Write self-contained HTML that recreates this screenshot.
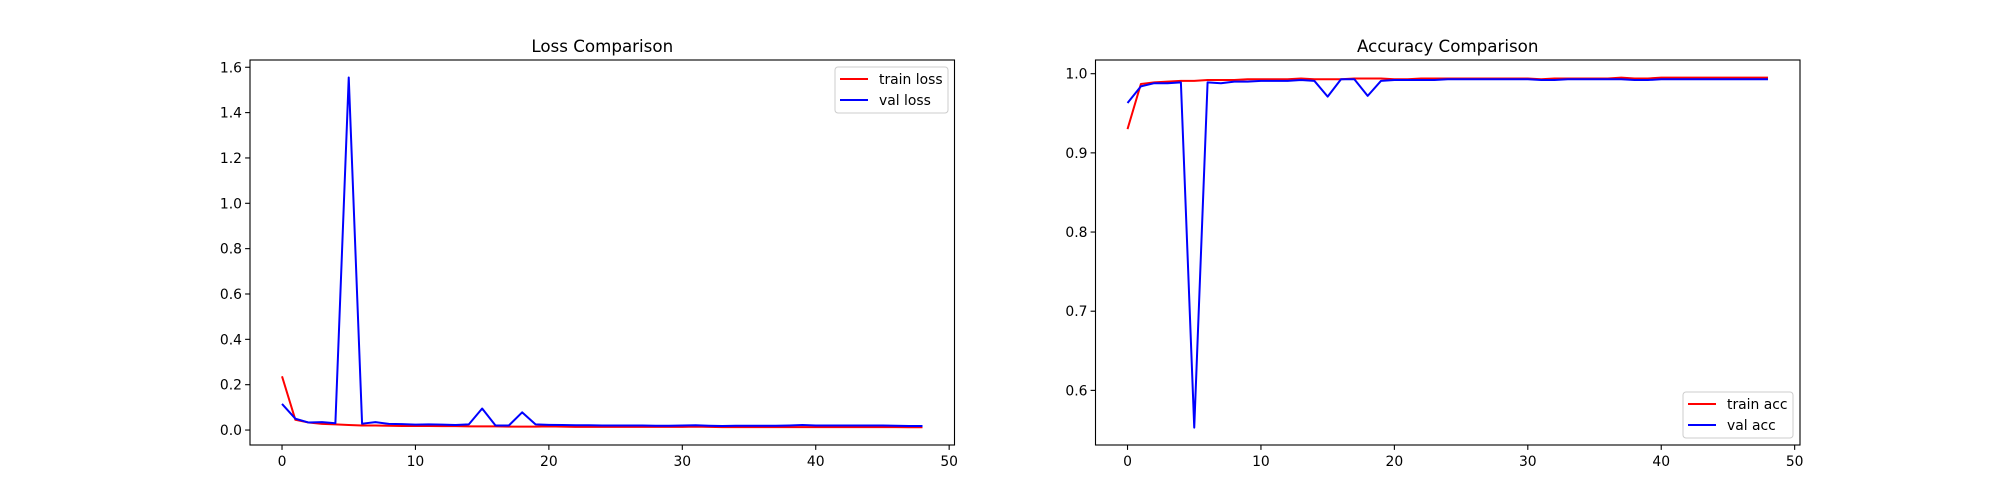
<!DOCTYPE html>
<html><head><meta charset="utf-8"><style>
body{margin:0;background:#fff}
svg{display:block;font-family:"DejaVu Sans","Liberation Sans",sans-serif}
</style></head><body>
<svg id="fig" width="2000" height="500" viewBox="0 0 2000 500" xmlns="http://www.w3.org/2000/svg"></svg>
<script>
const epochs = Array.from({length:49},(_,i)=>i);
const trainLoss = [0.237,0.045,0.033,0.027,0.025,0.022,0.020,0.020,0.019,0.018,0.018,0.018,0.017,0.017,0.016,0.016,0.016,0.015,0.015,0.015,0.016,0.015,0.014,0.014,0.014,0.014,0.014,0.014,0.014,0.014,0.014,0.015,0.014,0.013,0.013,0.013,0.013,0.013,0.013,0.013,0.013,0.013,0.013,0.013,0.013,0.013,0.013,0.012,0.012];
const valLoss = [0.115,0.050,0.033,0.035,0.030,1.555,0.028,0.035,0.027,0.026,0.024,0.025,0.024,0.022,0.025,0.095,0.020,0.020,0.078,0.025,0.023,0.022,0.021,0.021,0.020,0.020,0.020,0.020,0.019,0.019,0.020,0.021,0.019,0.018,0.019,0.019,0.019,0.019,0.020,0.022,0.020,0.020,0.020,0.020,0.020,0.020,0.019,0.018,0.018];
const trainAcc = [0.930,0.987,0.989,0.990,0.991,0.991,0.992,0.992,0.992,0.993,0.993,0.993,0.993,0.994,0.993,0.993,0.993,0.994,0.994,0.994,0.993,0.993,0.994,0.994,0.994,0.994,0.994,0.994,0.994,0.994,0.994,0.993,0.994,0.994,0.994,0.994,0.994,0.995,0.994,0.994,0.995,0.995,0.995,0.995,0.995,0.995,0.995,0.995,0.995];
const valAcc = [0.963,0.984,0.988,0.988,0.989,0.553,0.989,0.988,0.990,0.990,0.991,0.991,0.991,0.992,0.991,0.971,0.993,0.993,0.972,0.991,0.992,0.992,0.992,0.992,0.993,0.993,0.993,0.993,0.993,0.993,0.993,0.992,0.992,0.993,0.993,0.993,0.993,0.993,0.992,0.992,0.993,0.993,0.993,0.993,0.993,0.993,0.993,0.993,0.993];
const xTicks = [0,10,20,30,40,50];
const lossTicks = [0.0,0.2,0.4,0.6,0.8,1.0,1.2,1.4,1.6];
const accTicks = [0.6,0.7,0.8,0.9,1.0];

const NS="http://www.w3.org/2000/svg";
const svg=document.getElementById('fig');
function mk(tag,attrs,parent){const e=document.createElementNS(NS,tag);for(const k in attrs)e.setAttribute(k,attrs[k]);(parent||svg).appendChild(e);return e;}

function panel(cfg){
  const g=mk('g',{});
  
  
  const L=cfg.x0,R=cfg.x1,T=60,B=445;
  const xs=v=>L+(v-(-2.4))/(52.8)*(R-L);
  const ys=v=>B-(v-cfg.ymin)/(cfg.ymax-cfg.ymin)*(B-T);
  const t=mk('text',{x:(L+R)/2,y:52,'text-anchor':'middle','font-size':'16.7'},g);
  t.textContent=cfg.title;
  
  
  xTicks.forEach(v=>{const x=xs(v);mk('line',{x1:x,x2:x,y1:B,y2:B+4.9,stroke:'#000','stroke-width':1.1},g);
    const tx=mk('text',{x:x,y:B+21,'text-anchor':'middle','font-size':'13.9'},g);tx.textContent=v;
    
    });
  cfg.ticks.forEach(v=>{const y=ys(v);mk('line',{x1:L-4.9,x2:L,y1:y,y2:y,stroke:'#000','stroke-width':1.1},g);
    const ty=mk('text',{x:L-8,y:y+5,'text-anchor':'end','font-size':'13.9'},g);ty.textContent=v.toFixed(1);
    
    });
  cfg.series.forEach(s=>{
    const p=mk('polyline',{points:epochs.map((e,i)=>xs(e).toFixed(2)+','+ys(s.data[i]).toFixed(2)).join(' '),fill:'none',stroke:s.color,'stroke-width':2,'stroke-linejoin':'round'},g);
    
    
  });
  mk('rect',{x:L,y:T,width:R-L,height:B-T,fill:'none',stroke:'#000','stroke-width':1.1},g);
  const lg=mk('g',{},g);
  
  
  const lx=cfg.leg[0],ly=cfg.leg[1],lw=cfg.leg[2];
  mk('rect',{x:lx,y:ly,width:lw,height:46,rx:3,fill:'#fff',stroke:'#ccc','stroke-width':1},lg);
  cfg.series.forEach((s,i)=>{const yy=ly+12+i*21;
    mk('line',{x1:lx+5,x2:lx+33,y1:yy,y2:yy,stroke:s.color,'stroke-width':2},lg);
    const tt=mk('text',{x:lx+44,y:yy+5,'font-size':'13.9'},lg);tt.textContent=s.label;
    
    });
}
panel({name:'loss-chart',title:'Loss Comparison',x0:250,x1:954.5,ymin:-0.066,ymax:1.632,ticks:lossTicks,leg:[835,67,113],
  series:[{name:'train-loss-line',label:'train loss',color:'#ff0000',data:trainLoss},{name:'val-loss-line',label:'val loss',color:'#0000ff',data:valLoss}]});
panel({name:'accuracy-chart',title:'Accuracy Comparison',x0:1095.5,x1:1800,ymin:0.531,ymax:1.0173,ticks:accTicks,leg:[1683,392,110],
  series:[{name:'train-acc-line',label:'train acc',color:'#ff0000',data:trainAcc},{name:'val-acc-line',label:'val acc',color:'#0000ff',data:valAcc}]});
</script>
</body></html>
